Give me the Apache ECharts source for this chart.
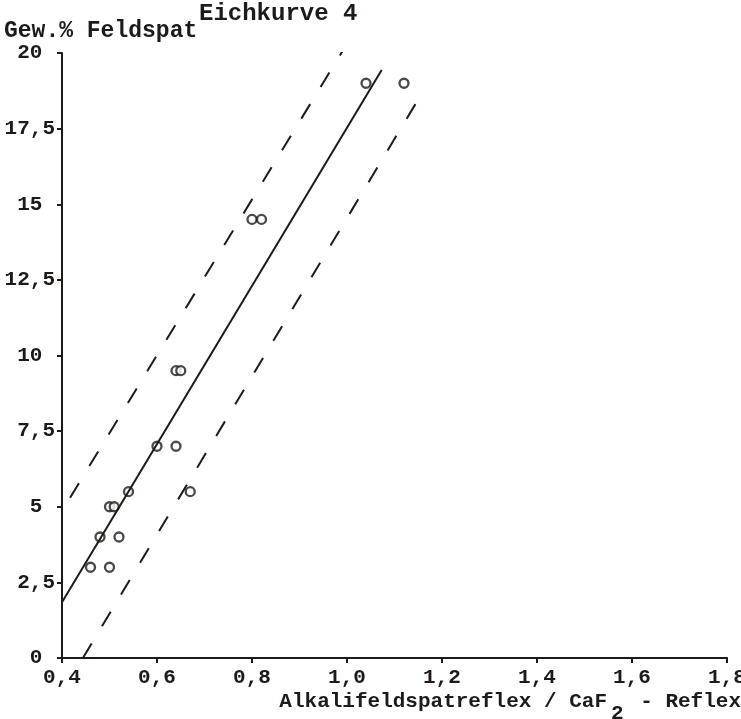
<!DOCTYPE html>
<html>
<head>
<meta charset="utf-8">
<script src="https://cdn.jsdelivr.net/npm/echarts@6/dist/echarts.min.js"></script>
<style>
html,body{margin:0;padding:0;background:#fff;}
#c{width:741px;height:719px;}
</style>
</head>
<body>
<div id="c"></div>
<script>
// Measured points
const pointX = [0.46, 0.50, 0.48, 0.52, 0.50, 0.51, 0.54, 0.67, 0.60, 0.64, 0.64, 0.65, 0.80, 0.82, 1.04, 1.12];
const pointY = [3.0, 3.0, 4.0, 4.0, 5.0, 5.0, 5.5, 5.5, 7.0, 7.0, 9.5, 9.5, 14.5, 14.5, 19.0, 19.0];
// Calibration line and confidence band end points
const regX = [0.40, 1.073];
const regY = [1.84, 19.44];
const upperX = [0.417, 0.992];
const upperY = [5.30, 20.10];
const lowerX = [0.444, 1.157];
const lowerY = [0.0, 18.65];
// Axis ticks
const xTicks = [0.4, 0.6, 0.8, 1.0, 1.2, 1.4, 1.6, 1.8];
const yTicks = [0, 2.5, 5, 7.5, 10, 12.5, 15, 17.5, 20];

const titleText = 'Eichkurve 4';
const yName = 'Gew.% Feldspat';

const ink = '#1e1a18';
const font = '"Liberation Mono", "DejaVu Sans Mono", monospace';

const zip = (a, b) => a.map((v, i) => [v, b[i]]);

const chart = echarts.init(document.getElementById('c'), null, {renderer: 'canvas'});
chart.setOption({
  animation: false,
  backgroundColor: '#fff',
  title: {
    text: titleText,
    left: 194, top: -3,
    textStyle: {fontFamily: font, fontSize: 24, fontWeight: 'bold', color: ink}
  },
  grid: {left: 62, right: 14, top: 53, bottom: 61, containLabel: false, outerBoundsMode: 'none'},
  xAxis: {
    type: 'value',
    min: 0.4, max: 1.8, interval: 0.2,
    axisLine: {show: true, onZero: false, lineStyle: {color: ink, width: 2}},
    axisTick: {show: true, length: 5, lineStyle: {color: ink, width: 2}},
    splitLine: {show: false},
    axisLabel: {
      margin: 9,
      fontFamily: font, fontSize: 21, fontWeight: 'bold', color: ink,
      showMaxLabel: true, showMinLabel: true,
      formatter: v => {
        const m = xTicks.find(t => Math.abs(t - v) < 1e-6);
        return (m !== undefined ? m : v).toFixed(1).replace('.', ',');
      }
    },
    name: 'Alkalifeldspatreflex / CaF{sub|2} - Reflex',
    nameLocation: 'end',
    nameGap: 0,
    nameTextStyle: {
      fontFamily: font, fontSize: 21, fontWeight: 'bold', color: ink,
      align: 'right', verticalAlign: 'top',
      padding: [21, -14, 0, 0],
      rich: {
        sub: {fontFamily: font, fontSize: 21, fontWeight: 'bold', color: ink, padding: [24, 4, 0, 4]}
      }
    }
  },
  yAxis: {
    type: 'value',
    min: 0, max: 20, interval: 2.5,
    axisLine: {show: true, onZero: false, lineStyle: {color: ink, width: 2}},
    axisTick: {show: true, length: 5, lineStyle: {color: ink, width: 2}},
    splitLine: {show: false},
    axisLabel: {
      margin: 7,
      fontFamily: font, fontSize: 21, fontWeight: 'bold', color: ink,
      formatter: v => Number.isInteger(v) ? String(v) + ' ' : String(v).replace('.', ',')
    },
    name: yName,
    nameLocation: 'end',
    nameGap: 6,
    nameTextStyle: {
      fontFamily: font, fontSize: 23, fontWeight: 'bold', color: ink,
      align: 'left', padding: [0, 0, 0, -58]
    }
  },
  series: [
    {
      type: 'line', data: zip(regX, regY), symbol: 'none',
      lineStyle: {color: ink, width: 2}, silent: true
    },
    {
      type: 'line', data: zip(upperX, upperY), symbol: 'none',
      lineStyle: {color: ink, width: 2, type: [17, 20]}, silent: true
    },
    {
      type: 'line', data: zip(lowerX, lowerY), symbol: 'none',
      lineStyle: {color: ink, width: 2, type: [17, 20]}, silent: true
    },
    {
      type: 'scatter', data: zip(pointX, pointY),
      symbol: 'circle', symbolSize: 9,
      itemStyle: {color: '#fff', borderColor: ink, borderWidth: 2.3}
    }
  ]
});
</script>
</body>
</html>
